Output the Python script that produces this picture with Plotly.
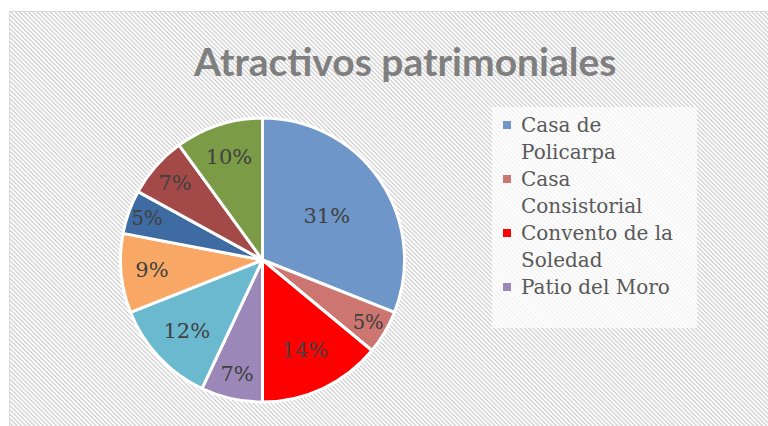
import base64
import textwrap
import plotly.graph_objects as go

# ---- data ----
categories = [
    "Casa de Policarpa",
    "Casa Consistorial",
    "Convento de la Soledad",
    "Patio del Moro",
    "Catedral San Miguel Arcángel",
    "Casa de los Virreyes",
    "Piedra Capira",
    "Alto del Trigo",
    "Puente de la Libertad",
]
values = [31, 5, 14, 7, 12, 9, 5, 7, 10]
colors = ["#6f96c8", "#cc7571", "#ff0000", "#9c88b8", "#6ab9cf",
          "#f8a864", "#3f6ba3", "#a34a48", "#7b9b47"]
title_text = "Atractivos patrimoniales"
legend_visible = 4  # the legend only shows the first entries

W, H = 768, 426


def px(x):
    return x / W


def py(y):
    return 1 - y / H


# background hatch as inline SVG (larger than the figure so no right/bottom edge shows)
SW, SH = 820, 470
svg = (
    f'<svg xmlns="http://www.w3.org/2000/svg" width="{SW}" height="{SH}" viewBox="0 0 {SW} {SH}">'
    '<defs><pattern id="h" width="4" height="3.1" patternUnits="userSpaceOnUse" '
    'patternTransform="rotate(45)"><rect width="4" height="1.45" fill="#d4d4d4"/></pattern></defs>'
    f'<rect width="{SW}" height="{SH}" fill="white"/>'
    f'<rect x="9.5" y="11.5" width="{SW}" height="{SH}" fill="url(#h)" stroke="#d9d9d9" stroke-width="1"/>'
    '</svg>'
)
svg_uri = "data:image/svg+xml;base64," + base64.b64encode(svg.encode()).decode()

cx, cy, r = 262.5, 260, 142

fig = go.Figure(
    go.Pie(
        labels=categories,
        values=values,
        sort=False,
        direction="clockwise",
        rotation=0,
        marker=dict(colors=colors, line=dict(color="white", width=3)),
        texttemplate="%{percent:.0%}",
        textposition="inside",
        insidetextorientation="horizontal",
        textfont=dict(family="DejaVu Serif", size=21, color="#404040"),
        domain=dict(x=[px(cx - r), px(cx + r)], y=[py(cy + r), py(cy - r)]),
        showlegend=False,
        hoverinfo="label+percent",
    )
)

shapes = [
    dict(type="rect", xref="paper", yref="paper",
         x0=px(492), x1=px(697), y0=py(328), y1=py(107),
         fillcolor="rgba(255,255,255,0.72)", line=dict(width=0), layer="below"),
]
annotations = [
    dict(text=f"<b>{title_text}</b>", xref="paper", yref="paper",
         x=px(404), y=py(61), xanchor="center", yanchor="middle",
         showarrow=False, font=dict(family="Lato", size=39, color="#7f7f7f")),
]

line_y = 125
pitch = 27
for i in range(legend_visible):
    lines = textwrap.wrap(categories[i], width=14)
    shapes.append(dict(type="rect", xref="paper", yref="paper",
                       x0=px(503), x1=px(511), y0=py(line_y + 4), y1=py(line_y - 4),
                       fillcolor=colors[i], line=dict(width=0)))
    for ln in lines:
        annotations.append(dict(text=ln, xref="paper", yref="paper",
                                x=px(519), y=py(line_y), xanchor="left", yanchor="middle",
                                showarrow=False,
                                font=dict(family="DejaVu Serif", size=20, color="#595959")))
        line_y += pitch

fig.update_layout(
    width=W, height=H,
    margin=dict(l=0, r=0, t=0, b=0),
    paper_bgcolor="white",
    images=[dict(source=svg_uri, xref="paper", yref="paper", x=0, y=1,
                 sizex=SW / W, sizey=SH / H, xanchor="left", yanchor="top",
                 sizing="stretch", layer="below")],
    shapes=shapes,
    annotations=annotations,
)

fig.write_html(
    "out.html",
    config={"displayModeBar": False},
    post_script="document.body.style.margin='0';document.body.style.overflow='hidden';",
)
